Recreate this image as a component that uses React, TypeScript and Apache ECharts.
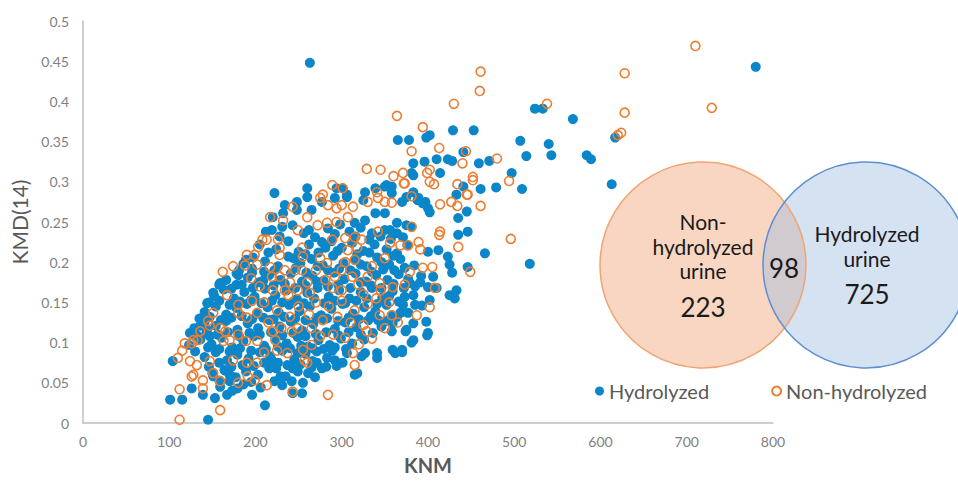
import React, { useEffect, useRef } from "react";
import * as echarts from "echarts";

const seriesNames = ["Hydrolyzed", "Non-hydrolyzed"];

// Hydrolyzed: [KNM, KMD(14)]
const hydrolyzed: [number, number][] = [
  [263, 0.448], [780, 0.443], [617, 0.355], [584, 0.333], [589, 0.328], [613, 0.297],
  [524, 0.391], [533, 0.391], [568, 0.378], [507, 0.351], [540, 0.347], [543, 0.333], [514, 0.332],
  [497, 0.311], [479, 0.293], [509, 0.291], [461, 0.291], [459, 0.323], [471, 0.326], [429, 0.364],
  [453, 0.364], [365, 0.352], [378, 0.352], [398, 0.355], [402, 0.358], [423, 0.328], [428, 0.326],
  [410, 0.328], [396, 0.325], [383, 0.323], [381, 0.311], [414, 0.311], [441, 0.337], [433, 0.284],
  [441, 0.294], [445, 0.263], [435, 0.255], [435, 0.234], [446, 0.238],
  [327, 0.287], [352, 0.296], [358, 0.294], [339, 0.292], [301, 0.292], [306, 0.281], [292, 0.28],
  [325, 0.277], [350, 0.261], [370, 0.275], [383, 0.287], [388, 0.277], [397, 0.275], [400, 0.267],
  [381, 0.244], [356, 0.24], [364, 0.236], [371, 0.231],
  [222, 0.286], [260, 0.292], [260, 0.281], [248, 0.275], [234, 0.271], [220, 0.256], [232, 0.261],
  [248, 0.265], [265, 0.265], [277, 0.275], [294, 0.292], [306, 0.284], [358, 0.286], [350, 0.294],
  [383, 0.308], [375, 0.281], [389, 0.28], [394, 0.273], [402, 0.262], [375, 0.246],
  [400, 0.213], [412, 0.215], [423, 0.207], [466, 0.211], [518, 0.198], [425, 0.197], [428, 0.187],
  [446, 0.194], [406, 0.182], [391, 0.175], [379, 0.174], [383, 0.159], [400, 0.169], [410, 0.168],
  [425, 0.159], [433, 0.165],
  [101, 0.029], [115, 0.029], [145, 0.004], [104, 0.077], [126, 0.043], [124, 0.112], [136, 0.121],
  [144, 0.116], [147, 0.108], [153, 0.031], [167, 0.035], [211, 0.022], [196, 0.035], [165, 0.065],
  [150, 0.062], [139, 0.035], [179, 0.043], [170, 0.052], [132, 0.109], [144, 0.149], [151, 0.162],
  [159, 0.174], [180, 0.184], [178, 0.172], [189, 0.203], [196, 0.187],
  [359, 0.091], [370, 0.091], [362, 0.087], [341, 0.087], [341, 0.081], [323, 0.083], [327, 0.087],
  [306, 0.087], [315, 0.06], [318, 0.062], [289, 0.09], [292, 0.078], [294, 0.071], [277, 0.068],
  [271, 0.075], [261, 0.062], [243, 0.068], [226, 0.075], [219, 0.078], [242, 0.052], [255, 0.05],
  [254, 0.037], [243, 0.037], [266, 0.077], [249, 0.087], [358, 0.114], [359, 0.124], [358, 0.134],
  [342, 0.128], [352, 0.127], [385, 0.147], [393, 0.146], [402, 0.153], [431, 0.155], [371, 0.147],
  [377, 0.137], [368, 0.137], [383, 0.124], [398, 0.126], [374, 0.114], [400, 0.112], [399, 0.109],
  [383, 0.103], [381, 0.1], [370, 0.088], [364, 0.132], [370, 0.138], [375, 0.116],
  [219, 0.24], [231, 0.244], [269, 0.231], [277, 0.225], [335, 0.236], [350, 0.24], [364, 0.249],
  [327, 0.252], [339, 0.261], [315, 0.249], [364, 0.211],
  [212, 0.238], [243, 0.246], [256, 0.236], [284, 0.242], [298, 0.247], [309, 0.238], [322, 0.243],
  [345, 0.232],
  [205, 0.222], [224, 0.216], [238, 0.226], [250, 0.213], [262, 0.222], [273, 0.212], [288, 0.226],
  [300, 0.218], [312, 0.224], [325, 0.214], [338, 0.222], [352, 0.216], [376, 0.221],
  [186, 0.198], [197, 0.206], [211, 0.201], [226, 0.195], [238, 0.207], [252, 0.199], [265, 0.204],
  [278, 0.196], [290, 0.208], [302, 0.199], [316, 0.203], [329, 0.195], [341, 0.206], [355, 0.197],
  [368, 0.204], [384, 0.196],
  [166, 0.178], [178, 0.186], [191, 0.181], [204, 0.175], [216, 0.184], [229, 0.178], [241, 0.186],
  [254, 0.176], [266, 0.183], [279, 0.177], [291, 0.187], [303, 0.179], [316, 0.186], [328, 0.176],
  [340, 0.184], [353, 0.178], [366, 0.185], [377, 0.179], [392, 0.183],
  [152, 0.158], [163, 0.166], [175, 0.155], [187, 0.163], [199, 0.157], [211, 0.167], [223, 0.159],
  [236, 0.165], [248, 0.154], [260, 0.162], [272, 0.168], [285, 0.157], [297, 0.165], [309, 0.155],
  [322, 0.163], [335, 0.168], [347, 0.156], [359, 0.164], [373, 0.157],
  [141, 0.138], [154, 0.145], [166, 0.135], [178, 0.143], [190, 0.148], [202, 0.136], [214, 0.144],
  [227, 0.137], [239, 0.147], [251, 0.139], [263, 0.145], [276, 0.134], [288, 0.142], [301, 0.148],
  [313, 0.136], [326, 0.144], [339, 0.139], [352, 0.147],
  [129, 0.118], [141, 0.126], [154, 0.121], [166, 0.127], [179, 0.116], [191, 0.124], [203, 0.118],
  [216, 0.128], [228, 0.12], [241, 0.126], [254, 0.115], [267, 0.123], [279, 0.129], [292, 0.117],
  [304, 0.125], [317, 0.119], [331, 0.128], [346, 0.12],
  [123, 0.097], [136, 0.104], [149, 0.098], [161, 0.106], [173, 0.094], [186, 0.102], [198, 0.108],
  [210, 0.096], [223, 0.105], [236, 0.099], [249, 0.107], [261, 0.095], [273, 0.103], [286, 0.097],
  [299, 0.105], [312, 0.099], [326, 0.104],
  [141, 0.082], [154, 0.088], [167, 0.078], [179, 0.085], [192, 0.08], [205, 0.088], [217, 0.083],
  [231, 0.09], [245, 0.079], [258, 0.086], [271, 0.089], [283, 0.081], [301, 0.075],
  [151, 0.058], [164, 0.066], [177, 0.057], [189, 0.064], [203, 0.06], [216, 0.068], [229, 0.058],
  [249, 0.064], [269, 0.057],
  [159, 0.045], [173, 0.04], [186, 0.048], [206, 0.044], [231, 0.047],
  [228, 0.232], [262, 0.24], [292, 0.235], [316, 0.232], [332, 0.228], [357, 0.229],
  [215, 0.212], [244, 0.205], [258, 0.21], [281, 0.218], [295, 0.214], [318, 0.21], [332, 0.212],
  [346, 0.2], [360, 0.208],
  [181, 0.19], [196, 0.192], [210, 0.188], [222, 0.19], [247, 0.193], [259, 0.187], [272, 0.195],
  [284, 0.19], [297, 0.192], [310, 0.19], [322, 0.197], [335, 0.188], [348, 0.191], [361, 0.19],
  [373, 0.193],
  [158, 0.172], [172, 0.167], [184, 0.172], [197, 0.168], [209, 0.177], [221, 0.171], [234, 0.173],
  [246, 0.168], [258, 0.171], [271, 0.176], [284, 0.17], [296, 0.172], [310, 0.168], [322, 0.175],
  [334, 0.171], [346, 0.168], [360, 0.173], [372, 0.168], [385, 0.17],
  [146, 0.15], [158, 0.152], [170, 0.147], [182, 0.151], [195, 0.153], [207, 0.149], [219, 0.152],
  [231, 0.15], [244, 0.151], [256, 0.149], [268, 0.155], [280, 0.149], [292, 0.152], [304, 0.149],
  [317, 0.152], [329, 0.155], [341, 0.148], [355, 0.158], [366, 0.151],
  [135, 0.13], [147, 0.132], [160, 0.128], [172, 0.131], [184, 0.133], [196, 0.129], [209, 0.131],
  [221, 0.129], [233, 0.132], [246, 0.13], [258, 0.128], [271, 0.131], [283, 0.13], [296, 0.127],
  [308, 0.131], [320, 0.129], [334, 0.133],
  [130, 0.108], [143, 0.112], [156, 0.11], [168, 0.113], [181, 0.108], [193, 0.112], [205, 0.11],
  [218, 0.113], [231, 0.109], [244, 0.112], [258, 0.108], [270, 0.111], [282, 0.113], [296, 0.109],
  [308, 0.113], [322, 0.11], [336, 0.112],
  [130, 0.089], [145, 0.094], [158, 0.092], [170, 0.089], [182, 0.093], [195, 0.09], [212, 0.092],
  [226, 0.095], [240, 0.093], [253, 0.096], [266, 0.093], [279, 0.092], [292, 0.094], [305, 0.092],
  [146, 0.07], [158, 0.075], [172, 0.07], [185, 0.072], [198, 0.071], [210, 0.075], [224, 0.068],
  [237, 0.072], [252, 0.073], [265, 0.069], [282, 0.07],
  [158, 0.053], [170, 0.06], [195, 0.051], [222, 0.052], [235, 0.058],
];

// Non-hydrolyzed: [KNM, KMD(14)]
const nonHydrolyzed: [number, number][] = [
  [710, 0.469], [628, 0.435], [628, 0.386], [729, 0.392], [624, 0.361], [620, 0.358], [461, 0.437],
  [460, 0.413], [430, 0.397], [364, 0.382], [394, 0.368], [538, 0.397], [381, 0.338], [413, 0.342],
  [444, 0.338], [440, 0.323], [480, 0.329], [452, 0.306], [452, 0.302], [494, 0.301], [399, 0.311],
  [402, 0.315], [402, 0.3], [407, 0.297], [434, 0.297], [445, 0.284], [427, 0.275], [434, 0.27],
  [461, 0.27], [414, 0.272], [496, 0.229], [414, 0.238], [413, 0.234], [329, 0.316], [345, 0.315],
  [360, 0.307], [371, 0.311], [372, 0.298], [381, 0.282],
  [289, 0.296], [278, 0.284], [275, 0.28], [301, 0.292], [284, 0.271], [294, 0.267], [300, 0.271],
  [243, 0.269], [217, 0.256], [232, 0.252], [260, 0.256], [313, 0.269], [307, 0.256], [330, 0.275],
  [341, 0.287], [342, 0.28], [358, 0.274], [350, 0.275],
  [249, 0.24], [226, 0.228], [213, 0.228], [228, 0.218], [228, 0.209], [217, 0.194], [272, 0.246],
  [283, 0.249], [294, 0.25], [289, 0.228], [304, 0.23], [315, 0.231], [323, 0.228], [342, 0.238],
  [356, 0.224], [254, 0.218], [255, 0.207], [307, 0.215], [318, 0.218], [304, 0.2], [315, 0.203],
  [275, 0.205], [283, 0.199], [234, 0.19], [246, 0.19], [254, 0.19], [219, 0.182], [228, 0.182],
  [281, 0.178], [292, 0.182], [312, 0.182], [330, 0.182], [344, 0.174], [359, 0.169], [249, 0.165],
  [263, 0.162], [234, 0.165], [238, 0.159], [289, 0.168], [300, 0.165], [319, 0.172],
  [373, 0.298], [446, 0.284], [381, 0.244], [435, 0.219], [368, 0.221], [377, 0.221], [389, 0.225],
  [391, 0.216], [394, 0.193], [405, 0.194], [379, 0.188], [449, 0.188], [373, 0.172], [408, 0.168],
  [387, 0.134], [402, 0.144],
  [315, 0.072], [284, 0.035], [243, 0.039], [313, 0.087], [304, 0.106], [329, 0.114], [325, 0.122],
  [344, 0.134], [358, 0.134], [265, 0.097], [255, 0.091], [257, 0.078], [260, 0.075], [237, 0.087],
  [223, 0.103], [220, 0.114], [213, 0.047], [242, 0.114], [249, 0.118],
  [112, 0.004], [112, 0.042], [159, 0.016], [110, 0.081], [115, 0.09], [118, 0.099], [126, 0.099],
  [128, 0.103], [124, 0.077], [132, 0.072], [126, 0.058], [136, 0.114], [133, 0.103], [147, 0.077],
  [139, 0.053], [139, 0.043], [151, 0.062], [159, 0.052], [180, 0.05], [151, 0.137], [145, 0.127],
  [147, 0.121], [159, 0.118], [165, 0.114], [170, 0.103], [174, 0.078], [190, 0.075], [202, 0.075],
  [191, 0.058], [199, 0.053], [180, 0.137], [190, 0.131], [202, 0.137], [180, 0.11], [189, 0.102],
  [202, 0.102], [180, 0.147], [196, 0.152], [163, 0.102], [128, 0.06],
  [162, 0.188], [174, 0.195], [202, 0.197], [190, 0.209], [167, 0.159], [188, 0.196], [199, 0.209],
  [203, 0.219], [208, 0.228],
  [270, 0.15], [285, 0.145], [300, 0.152], [315, 0.14], [330, 0.148], [262, 0.135], [278, 0.128],
  [295, 0.132], [310, 0.125], [340, 0.155], [355, 0.15], [225, 0.14], [240, 0.132], [210, 0.15],
  [215, 0.125], [230, 0.118], [250, 0.145], [265, 0.118], [290, 0.11], [275, 0.108], [345, 0.165],
  [335, 0.195], [350, 0.205], [325, 0.16], [205, 0.17], [220, 0.165], [195, 0.18], [260, 0.175],
  [270, 0.19], [300, 0.19], [240, 0.175], [210, 0.088], [225, 0.09], [350, 0.118], [365, 0.125],
  [320, 0.098], [335, 0.105],
];

// Venn diagram labels and counts
const vennLeftLabel = ["Non-", "hydrolyzed", "urine"];
const vennRightLabel = ["Hydrolyzed", "urine"];
const vennCounts = { left: 223, overlap: 98, right: 725 };

const BLUE = "#0b86c9";
const ORANGE = "#ed7d31";
const FONT = "Lato, 'Liberation Sans', sans-serif";

export default function App() {
  const ref = useRef<HTMLDivElement>(null);

  useEffect(() => {
    if (!ref.current) return;
    const chart = echarts.init(ref.current, null, { renderer: "svg" });

    const txt = (text: string, x: number, y: number, size: number) => ({
      type: "text",
      x,
      y,
      style: {
        text,
        fill: "#1a1a1a",
        fontSize: size,
        fontFamily: FONT,
        align: "center",
        verticalAlign: "middle",
      },
      z: 20,
    });

    chart.setOption({
      animation: false,
      backgroundColor: "#ffffff",
      textStyle: { fontFamily: FONT },
      grid: { left: 83, right: 185, top: 21, bottom: 59, containLabel: false },
      xAxis: {
        type: "value",
        min: 0,
        max: 800,
        interval: 100,
        name: "KNM",
        nameLocation: "middle",
        nameGap: 32,
        nameTextStyle: { fontSize: 20, fontWeight: "bold", color: "#595959", fontFamily: FONT },
        axisLine: { show: true, lineStyle: { color: "#bfbfbf", width: 1.5 } },
        axisTick: { show: false },
        splitLine: { show: false },
        axisLabel: { color: "#7f7f7f", fontSize: 14, margin: 11, fontFamily: FONT },
      },
      yAxis: {
        type: "value",
        min: 0,
        max: 0.5,
        interval: 0.05,
        name: "KMD(14)",
        nameLocation: "middle",
        nameGap: 49,
        nameRotate: 90,
        nameTextStyle: { fontSize: 21, color: "#595959", fontFamily: FONT },
        axisLine: { show: true, lineStyle: { color: "#bfbfbf", width: 1.5 } },
        axisTick: { show: false },
        splitLine: { show: false },
        axisLabel: {
          color: "#7f7f7f",
          fontSize: 14,
          margin: 14,
          fontFamily: FONT,
          formatter: (v: number) => String(parseFloat(v.toFixed(2))),
        },
      },
      legend: {
        data: seriesNames,
        left: 590,
        top: 376,
        orient: "horizontal",
        itemWidth: 9,
        itemHeight: 9,
        itemGap: 62,
        textStyle: { color: "#595959", fontSize: 20, fontFamily: FONT },
      },
      series: [
        {
          name: seriesNames[0],
          type: "scatter",
          symbol: "circle",
          symbolSize: 10,
          data: hydrolyzed,
          itemStyle: { color: BLUE, opacity: 1 },
          z: 2,
        },
        {
          name: seriesNames[1],
          type: "scatter",
          symbol: "circle",
          symbolSize: 9,
          data: nonHydrolyzed,
          itemStyle: { color: "rgba(255,255,255,0)", borderColor: ORANGE, borderWidth: 1.6, opacity: 1 },
          z: 3,
        },
      ],
      graphic: [
        {
          type: "circle",
          shape: { cx: 703, cy: 265, r: 103 },
          style: { fill: "#f8d6c1" },
          z: 10,
        },
        {
          type: "circle",
          shape: { cx: 866, cy: 265, r: 103 },
          style: { fill: "rgba(162,191,226,0.45)" },
          z: 11,
        },
        {
          type: "circle",
          shape: { cx: 703, cy: 265, r: 103 },
          style: { fill: "none", stroke: "#f2a472", lineWidth: 1.5 },
          z: 12,
        },
        {
          type: "circle",
          shape: { cx: 866, cy: 265, r: 103 },
          style: { fill: "none", stroke: "#5d8ed2", lineWidth: 1.5 },
          z: 12,
        },
        txt(vennLeftLabel[0], 703, 221, 21),
        txt(vennLeftLabel[1], 703, 246, 21),
        txt(vennLeftLabel[2], 703, 270, 21),
        txt(String(vennCounts.left), 703, 307, 26),
        txt(String(vennCounts.overlap), 784, 268, 26),
        txt(vennRightLabel[0], 867, 233, 21),
        txt(vennRightLabel[1], 867, 258, 21),
        txt(String(vennCounts.right), 867, 294, 26),
      ],
    });

    return () => chart.dispose();
  }, []);

  return (
    <div
      ref={ref}
      style={{ position: "fixed", left: 0, top: 0, width: 958, height: 482 }}
    />
  );
}
